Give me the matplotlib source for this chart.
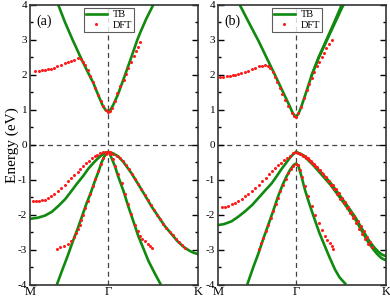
import matplotlib
matplotlib.use("Agg")
import matplotlib.pyplot as plt
from matplotlib.ticker import MultipleLocator

plt.rcParams['font.family'] = ['Liberation Serif', 'DejaVu Serif']
plt.rcParams['axes.unicode_minus'] = False

# k-path positions (M at 0, Gamma at 1, K at |GK|/|GM|)
K_GAMMA = 1.0
K_END = 2.1547
tick_pos = [0.0, K_GAMMA, K_END]
tick_lab = ['M', 'Γ', 'K']

# ---------------- panel (a) ----------------
# TB bands (green lines)
a_tb_c_k = [0.30, 0.363, 0.45, 0.547, 0.66, 0.748, 0.81, 0.87, 0.93, 0.97, 1.0,
            1.03, 1.07, 1.13, 1.20, 1.28, 1.376, 1.41, 1.49, 1.58, 1.65]
a_tb_c_e = [4.35, 4.0, 3.5, 3.0, 2.45, 2.05, 1.78, 1.45, 1.13, 0.99, 0.95,
            0.99, 1.15, 1.45, 1.88, 2.38, 3.0, 3.19, 3.6, 4.0, 4.3]
a_tb_v1_k = [0.0, 0.1, 0.19, 0.28, 0.36, 0.45, 0.53, 0.60, 0.68, 0.75, 0.83, 0.90, 0.94, 0.97, 1.0,
             1.06, 1.13, 1.20, 1.30, 1.38, 1.47, 1.56, 1.645, 1.73, 1.82, 1.90, 1.98, 2.05, 2.11, 2.1547]
a_tb_v1_e = [-2.12, -2.09, -2.03, -1.92, -1.76, -1.56, -1.33, -1.12, -0.90, -0.68, -0.48, -0.33, -0.26, -0.22, -0.21,
             -0.24, -0.33, -0.50, -0.81, -1.10, -1.43, -1.77, -2.05, -2.33, -2.57, -2.78, -2.94, -3.04, -3.10, -3.13]
a_tb_v2_k = [0.35, 0.42, 0.49, 0.55, 0.615, 0.67, 0.72, 0.78, 0.83, 0.88, 0.915, 0.95, 0.98, 1.0,
             1.02, 1.05, 1.09, 1.13, 1.20, 1.26, 1.33, 1.39, 1.46, 1.52, 1.60, 1.67]
a_tb_v2_e = [-3.97, -3.55, -3.14, -2.76, -2.38, -2.03, -1.71, -1.37, -1.05, -0.76, -0.52, -0.35, -0.24, -0.21,
             -0.25, -0.40, -0.62, -0.90, -1.33, -1.76, -2.22, -2.62, -3.0, -3.33, -3.68, -3.97]

# DFT bands (red dots)
a_dft_c_k = [0.068, 0.11, 0.15, 0.19, 0.23, 0.27, 0.31, 0.35, 0.40, 0.45, 0.49, 0.53, 0.57, 0.615, 0.65,
             0.68, 0.71, 0.74, 0.775, 0.81, 0.84, 0.87, 0.905, 0.94, 0.97, 1.0,
             1.025, 1.047, 1.085, 1.12, 1.16, 1.20, 1.23, 1.26, 1.30, 1.33, 1.355, 1.38, 1.41]
a_dft_c_e = [2.12, 2.12, 2.13, 2.14, 2.16, 2.18, 2.21, 2.25, 2.29, 2.33, 2.37, 2.40, 2.44, 2.47, 2.45,
             2.38, 2.27, 2.14, 1.98, 1.81, 1.62, 1.43, 1.25, 1.10, 0.99, 0.95,
             0.98, 1.05, 1.25, 1.48, 1.67, 1.86, 2.03, 2.19, 2.38, 2.53, 2.67, 2.81, 2.95]
a_dft_v1_k = [0.04, 0.08, 0.12, 0.16, 0.19, 0.23, 0.27, 0.31, 0.36, 0.40, 0.445, 0.49, 0.53, 0.57, 0.61,
              0.645, 0.68, 0.72, 0.755, 0.79, 0.83, 0.865, 0.90, 0.94, 0.97, 1.0,
              1.03, 1.07, 1.11, 1.15, 1.19, 1.23, 1.27, 1.31, 1.35, 1.39, 1.43, 1.47, 1.51, 1.55,
              1.59, 1.63, 1.67, 1.71, 1.75, 1.79, 1.83, 1.87, 1.91, 1.95, 1.99]
a_dft_v1_e = [-1.62, -1.61, -1.60, -1.59, -1.57, -1.53, -1.48, -1.41, -1.33, -1.24, -1.14, -1.05, -0.95, -0.86, -0.77,
              -0.69, -0.62, -0.53, -0.46, -0.39, -0.33, -0.28, -0.25, -0.22, -0.21, -0.21,
              -0.22, -0.26, -0.31, -0.38, -0.47, -0.57, -0.70, -0.84, -0.98, -1.13, -1.27, -1.43, -1.58, -1.73,
              -1.87, -2.00, -2.13, -2.26, -2.38, -2.49, -2.59, -2.70, -2.79, -2.88, -2.96]
a_dft_v2_k = [0.34, 0.39, 0.44, 0.49, 0.53, 0.56, 0.59, 0.615, 0.64, 0.66, 0.68, 0.71, 0.74, 0.775, 0.81,
              0.84, 0.87, 0.905, 0.94, 0.97,
              1.03, 1.06, 1.09, 1.13, 1.175, 1.22, 1.26, 1.30, 1.35, 1.38, 1.41, 1.44, 1.47, 1.51, 1.54, 1.57]
a_dft_v2_e = [-2.98, -2.94, -2.89, -2.83, -2.76, -2.65, -2.52, -2.40, -2.29, -2.15, -2.00, -1.82, -1.62, -1.41, -1.19,
              -0.98, -0.76, -0.56, -0.38, -0.26,
              -0.27, -0.42, -0.62, -0.85, -1.10, -1.40, -1.71, -1.97, -2.29, -2.47, -2.62, -2.70, -2.76, -2.85, -2.91, -2.95]

# ---------------- panel (b) ----------------
b_tb_c1_k = [0.20, 0.28, 0.40, 0.52, 0.63, 0.73, 0.84, 0.91, 0.96, 1.0,
             1.035, 1.07, 1.13, 1.20, 1.29, 1.39, 1.49, 1.586, 1.65]
b_tb_c1_e = [4.37, 4.0, 3.48, 2.97, 2.46, 2.0, 1.48, 1.15, 0.90, 0.79,
             0.90, 1.10, 1.50, 1.98, 2.50, 3.00, 3.50, 4.00, 4.30]
b_tb_c2_k = [1.20, 1.29, 1.39, 1.49, 1.586, 1.65]
b_tb_c2_e = [1.98, 2.48, 2.96, 3.44, 3.90, 4.18]
b_tb_v1_k = [0.0, 0.08, 0.175, 0.26, 0.35, 0.44, 0.52, 0.60, 0.69, 0.75, 0.81, 0.87, 0.92, 0.96, 1.0,
             1.06, 1.115, 1.22, 1.33, 1.44, 1.54, 1.65, 1.76, 1.85, 1.93, 2.0, 2.055, 2.10, 2.1547]
b_tb_v1_e = [-2.30, -2.27, -2.19, -2.06, -1.90, -1.72, -1.52, -1.32, -1.10, -0.91, -0.71, -0.53, -0.38, -0.28, -0.21,
             -0.26, -0.33, -0.55, -0.81, -1.08, -1.38, -1.72, -2.07, -2.42, -2.72, -2.93, -3.06, -3.14, -3.19]
b_tb_v2_k = [1.0, 1.06, 1.115, 1.22, 1.33, 1.44, 1.54, 1.65, 1.76, 1.85, 1.93, 2.0, 2.055, 2.10, 2.1547]
b_tb_v2_e = [-0.21, -0.27, -0.35, -0.58, -0.86, -1.14, -1.44, -1.78, -2.13, -2.49, -2.80, -3.02, -3.16, -3.25, -3.31]
b_tb_v3_k = [0.38, 0.45, 0.52, 0.58, 0.645, 0.71, 0.77, 0.83, 0.88, 0.93, 0.97, 1.0,
             1.03, 1.07, 1.115, 1.17, 1.24, 1.30, 1.37, 1.43, 1.50, 1.56, 1.63]
b_tb_v3_e = [-3.97, -3.52, -3.10, -2.70, -2.29, -1.88, -1.48, -1.14, -0.90, -0.70, -0.58, -0.54,
             -0.60, -0.90, -1.29, -1.68, -2.14, -2.52, -2.90, -3.22, -3.57, -3.80, -3.97]

b_dft_c_k = [0.026, 0.07, 0.11, 0.15, 0.19, 0.22, 0.26, 0.30, 0.35, 0.39, 0.43, 0.47, 0.52, 0.56, 0.60,
             0.635, 0.67, 0.70, 0.73, 0.76, 0.79, 0.825, 0.86, 0.90, 0.945, 0.975, 1.0,
             1.03, 1.06, 1.10, 1.14, 1.17, 1.20, 1.235, 1.265, 1.30, 1.33, 1.36, 1.39, 1.43, 1.465]
b_dft_c_e = [1.95, 1.95, 1.96, 1.97, 1.99, 2.00, 2.03, 2.06, 2.09, 2.12, 2.16, 2.20, 2.24, 2.26, 2.27,
             2.25, 2.19, 2.08, 1.95, 1.79, 1.62, 1.45, 1.29, 1.10, 0.90, 0.82, 0.79,
             0.90, 1.08, 1.33, 1.57, 1.74, 1.90, 2.07, 2.24, 2.38, 2.52, 2.64, 2.76, 2.88, 3.00]
b_dft_v1_k = [0.047, 0.09, 0.13, 0.175, 0.22, 0.26, 0.305, 0.35, 0.39, 0.435, 0.48, 0.52, 0.56, 0.61, 0.65,
              0.69, 0.73, 0.77, 0.81, 0.85, 0.885, 0.92, 0.96, 1.0,
              1.03, 1.07, 1.11, 1.15, 1.19, 1.23, 1.27, 1.31, 1.35, 1.39, 1.43, 1.47, 1.51, 1.55,
              1.59, 1.63, 1.67, 1.71, 1.75, 1.79, 1.83, 1.87, 1.91, 1.95]
b_dft_v1_e = [-1.79, -1.78, -1.75, -1.71, -1.66, -1.61, -1.55, -1.48, -1.41, -1.33, -1.23, -1.14, -1.05, -0.95, -0.85,
              -0.76, -0.67, -0.59, -0.52, -0.44, -0.37, -0.31, -0.25, -0.21,
              -0.23, -0.27, -0.33, -0.39, -0.46, -0.54, -0.63, -0.73, -0.83, -0.93, -1.03, -1.14, -1.26, -1.38,
              -1.51, -1.64, -1.78, -1.92, -2.05, -2.19, -2.33, -2.48, -2.63, -2.78]
b_dft_v2_k = [1.05, 1.09, 1.13, 1.17, 1.21, 1.25, 1.29, 1.33, 1.37, 1.41, 1.45, 1.49, 1.53, 1.57,
              1.61, 1.65, 1.69, 1.73, 1.77, 1.81, 1.85, 1.89, 1.93, 1.97]
b_dft_v2_e = [-0.27, -0.32, -0.38, -0.45, -0.53, -0.62, -0.72, -0.82, -0.93, -1.04, -1.16, -1.28, -1.41, -1.54,
              -1.68, -1.82, -1.96, -2.10, -2.25, -2.40, -2.55, -2.70, -2.85, -2.93]
b_dft_v3_k = [0.52, 0.55, 0.58, 0.61, 0.645, 0.68, 0.71, 0.74, 0.77, 0.80, 0.84, 0.87, 0.90, 0.93, 0.96, 1.0,
              1.03, 1.05, 1.08, 1.115, 1.16, 1.20, 1.245, 1.29, 1.33, 1.37, 1.40, 1.436, 1.46, 1.48]
b_dft_v3_e = [-2.98, -2.82, -2.67, -2.48, -2.29, -2.10, -1.90, -1.71, -1.52, -1.33, -1.14, -0.97, -0.81, -0.70, -0.60, -0.54,
              -0.58, -0.71, -0.93, -1.19, -1.48, -1.76, -2.02, -2.24, -2.44, -2.62, -2.72, -2.81, -2.90, -2.98]

GREEN = '#0f8a0f'
RED = '#ff1a1a'

panels = [
    ('(a)', [(a_tb_c_k, a_tb_c_e), (a_tb_v1_k, a_tb_v1_e), (a_tb_v2_k, a_tb_v2_e)],
     [(a_dft_c_k, a_dft_c_e), (a_dft_v1_k, a_dft_v1_e), (a_dft_v2_k, a_dft_v2_e)]),
    ('(b)', [(b_tb_c1_k, b_tb_c1_e), (b_tb_c2_k, b_tb_c2_e), (b_tb_v1_k, b_tb_v1_e),
             (b_tb_v2_k, b_tb_v2_e), (b_tb_v3_k, b_tb_v3_e)],
     [(b_dft_c_k, b_dft_c_e), (b_dft_v1_k, b_dft_v1_e), (b_dft_v2_k, b_dft_v2_e), (b_dft_v3_k, b_dft_v3_e)]),
]

fig = plt.figure(figsize=(3.9, 2.98), dpi=100)
lefts = [30 / 390, 218 / 390]
for (label, tb, dft), left in zip(panels, lefts):
    ax = fig.add_axes([left, 13.5 / 298, 168 / 390, 279.5 / 298])
    for i, (k, e) in enumerate(tb):
        ax.plot(k, e, color=GREEN, lw=1.9, label='TB' if i == 0 else None, zorder=2,
                solid_joinstyle='round')
    for i, (k, e) in enumerate(dft):
        ax.plot(k, e, ls='none', marker='o', ms=2.2, mec='none', color=RED,
                label='DFT' if i == 0 else None, zorder=3)
    ax.axhline(0, color='#444444', ls=(0, (4, 3)), lw=0.9, zorder=1)
    ax.axvline(K_GAMMA, color='#444444', ls=(0, (4, 3)), lw=0.9, zorder=1)
    ax.set_xlim(0, K_END)
    ax.set_ylim(-4, 4)
    ax.set_xticks(tick_pos)
    ax.set_xticklabels(tick_lab, fontsize=9)
    ax.tick_params(axis='x', length=0, pad=1)
    ax.yaxis.set_major_locator(MultipleLocator(1))
    ax.yaxis.set_minor_locator(MultipleLocator(0.5))
    ax.tick_params(axis='y', which='both', direction='in', right=True, labelsize=8, pad=2)
    ax.tick_params(axis='y', which='major', length=4, width=1)
    ax.tick_params(axis='y', which='minor', length=2, width=1)
    for s in ax.spines.values():
        s.set_linewidth(1.2)
        s.set_color('#333333')
    ax.text(0.035, 0.965, label, transform=ax.transAxes, ha='left', va='top', fontsize=10)
    leg = ax.legend(loc='upper left', bbox_to_anchor=(0.32, 0.99), fontsize=7.5, frameon=True,
                    fancybox=False, edgecolor='#333333', borderpad=0.2, handlelength=2.0,
                    handletextpad=0.6, labelspacing=0.1, borderaxespad=0.0, markerscale=1.0)
    leg.get_frame().set_linewidth(0.8)
    if label == '(a)':
        ax.set_ylabel('Energy (eV)', fontsize=11, labelpad=-1)

fig.savefig('out.png', dpi=100)
